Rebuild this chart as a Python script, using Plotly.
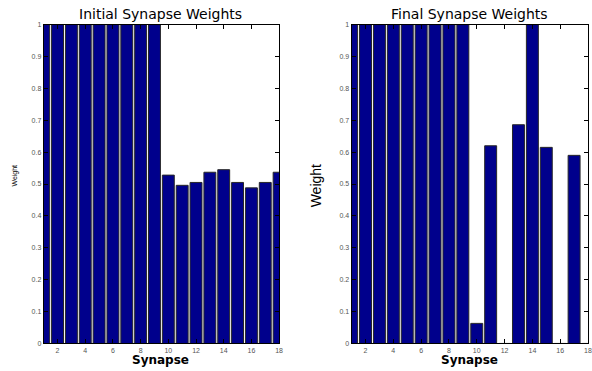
import plotly.graph_objects as go

synapse = list(range(1, 19))
initial_weights = [1, 1, 1, 1, 1, 1, 1, 1, 1,
                   0.528, 0.496, 0.505, 0.537, 0.545, 0.505, 0.488, 0.505, 0.537]
final_weights = [1, 1, 1, 1, 1, 1, 1, 1, 1,
                 0.063, 0.620, 0.0, 0.686, 1.0, 0.615, 0.0, 0.590, 0.0]
x_ticks = [2, 4, 6, 8, 10, 12, 14, 16, 18]
y_ticks = [0, 0.1, 0.2, 0.3, 0.4, 0.5, 0.6, 0.7, 0.8, 0.9, 1]
y_tick_text = ["0", "0.1", "0.2", "0.3", "0.4", "0.5", "0.6", "0.7", "0.8", "0.9", "1"]

W, H = 592, 371
bar_color = "rgb(0,0,140)"


def py(px):
    """Convert a pixel row (from top) into a paper fraction."""
    return (H - px) / H


fig = go.Figure()
fig.add_trace(go.Bar(x=synapse, y=initial_weights,
                     marker=dict(color=bar_color, line=dict(color="rgb(40,40,40)", width=1)),
                     xaxis="x", yaxis="y", showlegend=False))
fig.add_trace(go.Bar(x=synapse, y=final_weights,
                     marker=dict(color=bar_color, line=dict(color="rgb(40,40,40)", width=1)),
                     xaxis="x2", yaxis="y2", showlegend=False))

ydom = [py(346), py(21)]
axis_common = dict(showgrid=False, zeroline=False, ticks="inside", ticklen=4, tickcolor="black",
                   showline=True, linecolor="black", linewidth=1, mirror="ticks",
                   tickfont=dict(family="Arial, Liberation Sans", size=7, color="#555"))

fig.update_layout(
    width=W, height=H, margin=dict(l=0, r=0, t=0, b=0),
    paper_bgcolor="white", plot_bgcolor="white", bargap=0.14,
    xaxis=dict(domain=[44 / W, 281 / W], range=[1, 18], tickvals=x_ticks, anchor="y",
               ticklabelstandoff=0, **axis_common),
    yaxis=dict(domain=ydom, range=[0, 1], tickvals=y_ticks, ticktext=y_tick_text, anchor="x", **axis_common),
    xaxis2=dict(domain=[354 / W, 592 / W], range=[1, 18], tickvals=x_ticks, anchor="y2",
                ticklabelstandoff=0, **axis_common),
    yaxis2=dict(domain=ydom, range=[0, 1], tickvals=y_ticks, ticktext=y_tick_text, anchor="x2", **axis_common),
)

font_t = dict(family="DejaVu Sans", size=14, color="black")
font_x = dict(family="DejaVu Sans", size=12, color="black")
annotations = [
    dict(text="Initial Synapse Weights", x=162 / W, y=py(10), font=font_t),
    dict(text="Final Synapse Weights", x=473 / W, y=py(10), font=font_t),
    dict(text="<b>Synapse</b>", x=162 / W, y=py(371), yanchor="bottom", font=font_x, borderpad=0),
    dict(text="<b>Synapse</b>", x=473 / W, y=py(371), yanchor="bottom", font=font_x, borderpad=0),
    dict(text="Weight", x=15 / W, y=py(175), textangle=-90,
         font=dict(family="Arial, Liberation Sans", size=7, color="black")),
    dict(text="Weight", x=318 / W, y=py(185), textangle=-90,
         font=dict(family="Liberation Sans Narrow, Arial Narrow, Arial", size=14, color="black")),
]
for a in annotations:
    a.setdefault("yanchor", "middle")
    a.update(xref="paper", yref="paper", showarrow=False, xanchor="center")
fig.update_layout(annotations=annotations)

fig.write_html("out.html")
